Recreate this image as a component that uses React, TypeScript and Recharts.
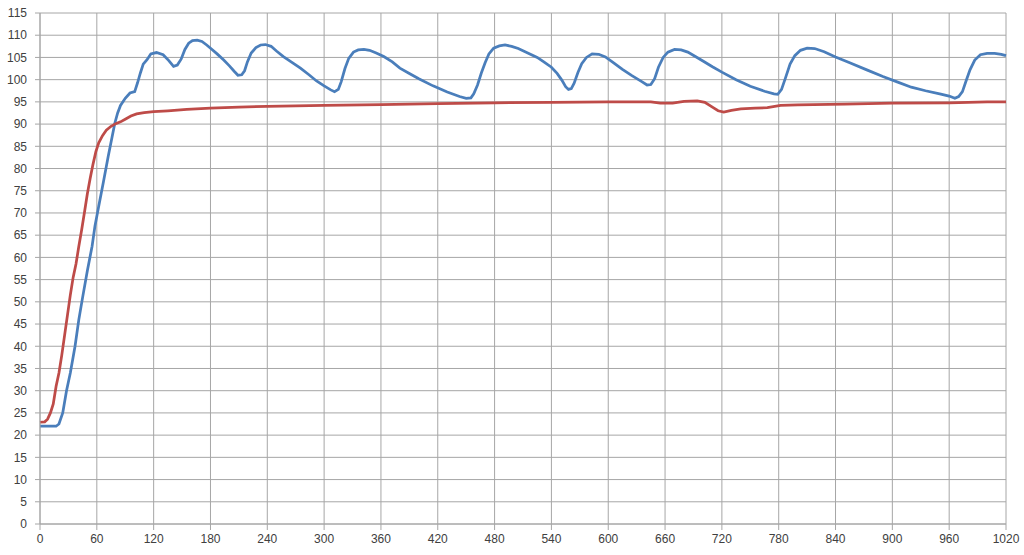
import { LineChart, Line, XAxis, YAxis, CartesianGrid } from 'recharts';

// sample times (s) and readings
const BLUE_X = [
  0, 17, 20, 24, 28, 32, 37, 41, 45, 50, 55, 58, 62, 67, 72, 76, 79, 82, 85, 90,
  95, 100, 103, 106, 109, 113, 117, 123, 130, 136, 141, 145, 149, 153, 157, 161, 166, 171, 176, 181,
  187, 194, 200, 205, 209, 213, 216, 219, 223, 228, 233, 238, 244, 250, 257, 266, 275, 284, 292, 300,
  307, 311, 315, 318, 322, 326, 331, 336, 342, 348, 355, 363, 372, 380, 390, 400, 415, 430, 443, 450,
  455, 458, 462, 466, 470, 474, 479, 485, 491, 498, 505, 515, 525, 532, 540, 546, 551, 555, 558, 561,
  564, 568, 572, 577, 583, 590, 597, 605, 615, 625, 635, 641, 645, 649, 653, 658, 663, 670, 677, 684,
  692, 700, 710, 720, 735, 750, 765, 775, 779, 783, 787, 792, 797, 803, 810, 818, 828, 840, 855, 873,
  890, 905, 920, 935, 950, 960, 966, 970, 974, 978, 982, 987, 993, 1000, 1008, 1015, 1020,
];
const BLUE_Y = [
  22, 22, 22.5, 25, 30, 34, 40, 46, 51, 57, 62.5, 67, 71.5, 77, 82.7, 87, 90.2, 92.5, 94.2, 95.8,
  97, 97.3, 99.3, 101.5, 103.5, 104.5, 105.8, 106.1, 105.6, 104.3, 103, 103.3, 104.6, 106.8, 108.2, 108.8, 108.9, 108.6, 107.8, 106.9,
  105.8, 104.4, 103.1, 101.9, 101, 101.1, 102, 104, 106, 107.2, 107.8, 107.9, 107.5, 106.4, 105.2, 103.9, 102.6, 101.1, 99.7, 98.6,
  97.7, 97.3, 97.8, 99.5, 102.5, 104.8, 106.2, 106.7, 106.8, 106.6, 106, 105.2, 104, 102.6, 101.4, 100.2, 98.6, 97.2, 96.2, 95.8,
  95.9, 96.8, 98.8, 101.5, 103.8, 105.8, 107.1, 107.6, 107.8, 107.5, 107, 106, 105, 104, 102.8, 101.4, 99.9, 98.4, 97.8, 98,
  99.2, 101.6, 103.6, 105, 105.8, 105.7, 105.1, 103.9, 102.3, 100.9, 99.6, 98.8, 98.9, 100.2, 102.8, 105, 106.2, 106.8, 106.7, 106.2,
  105.2, 104.2, 102.9, 101.7, 100, 98.5, 97.4, 96.8, 96.7, 97.8, 100.3, 103.5, 105.4, 106.6, 107.1, 107, 106.3, 105.1, 103.8, 102.2,
  100.7, 99.5, 98.3, 97.5, 96.8, 96.3, 95.8, 96.2, 97.3, 99.8, 102.2, 104.4, 105.6, 105.9, 105.9, 105.7, 105.4,
];

const RED_X = [
  0, 5, 8, 11, 14, 17, 20, 23, 26, 29, 32, 35, 38, 41, 44, 47, 50, 53, 56, 59,
  62, 66, 70, 75, 80, 85, 90, 96, 102, 110, 120, 135, 155, 180, 210, 240, 270, 300, 360, 420,
  480, 540, 600, 645, 655, 668, 680, 694, 702, 710, 716, 722, 730, 740, 755, 768, 782, 800, 850, 900,
  960, 1000, 1020,
];
const RED_Y = [
  22.9, 23, 23.6, 25, 27, 31, 34, 38, 42.5, 47, 51.5, 55.5, 58.5, 62.5, 66.2, 70.2, 74.3, 77.8, 81, 83.8,
  85.8, 87.4, 88.6, 89.5, 90.1, 90.5, 91.1, 91.8, 92.3, 92.6, 92.8, 93, 93.3, 93.6, 93.8, 94, 94.1, 94.2, 94.4, 94.6,
  94.8, 94.9, 95, 95, 94.7, 94.7, 95.1, 95.2, 94.9, 93.8, 93, 92.7, 93.1, 93.4, 93.6, 93.7, 94.2, 94.3, 94.5, 94.7,
  94.8, 95, 95,
];

const X_TICKS = Array.from({ length: 18 }, (_, i) => i * 60);
const Y_TICKS = Array.from({ length: 24 }, (_, i) => i * 5);

const GRID = '#a6a6a6';
const TICK = { fill: '#404040', fontSize: 12, fontFamily: 'Liberation Sans, Arial, sans-serif' };

export default function App() {
  const blue = BLUE_X.map((t, i) => ({ t, v: BLUE_Y[i] }));
  const red = RED_X.map((t, i) => ({ t, v: RED_Y[i] }));

  return (
    <div style={{ position: 'absolute', left: 0, top: 0, background: '#fff' }}>
      <LineChart width={1024} height={555} margin={{ top: 13, right: 18, bottom: 0, left: 0 }}>
        <CartesianGrid stroke={GRID} />
        <XAxis
          dataKey="t"
          type="number"
          domain={[0, 1020]}
          ticks={X_TICKS}
          height={31}
          axisLine={{ stroke: GRID }}
          tickLine={{ stroke: GRID }}
          tickSize={6}
          tickMargin={4}
          tick={TICK}
          allowDuplicatedCategory={false}
        />
        <YAxis
          type="number"
          domain={[0, 115]}
          ticks={Y_TICKS}
          width={40}
          axisLine={{ stroke: GRID }}
          tickLine={{ stroke: GRID }}
          tickSize={5}
          tickMargin={8}
          tick={TICK}
          interval={0}
        />
        <Line
          data={blue}
          dataKey="v"
          type="linear"
          stroke="#4a7ebb"
          strokeWidth={2.75}
          dot={false}
          isAnimationActive={false}
        />
        <Line
          data={red}
          dataKey="v"
          type="linear"
          stroke="#be4b48"
          strokeWidth={2.75}
          dot={false}
          isAnimationActive={false}
        />
      </LineChart>
    </div>
  );
}
